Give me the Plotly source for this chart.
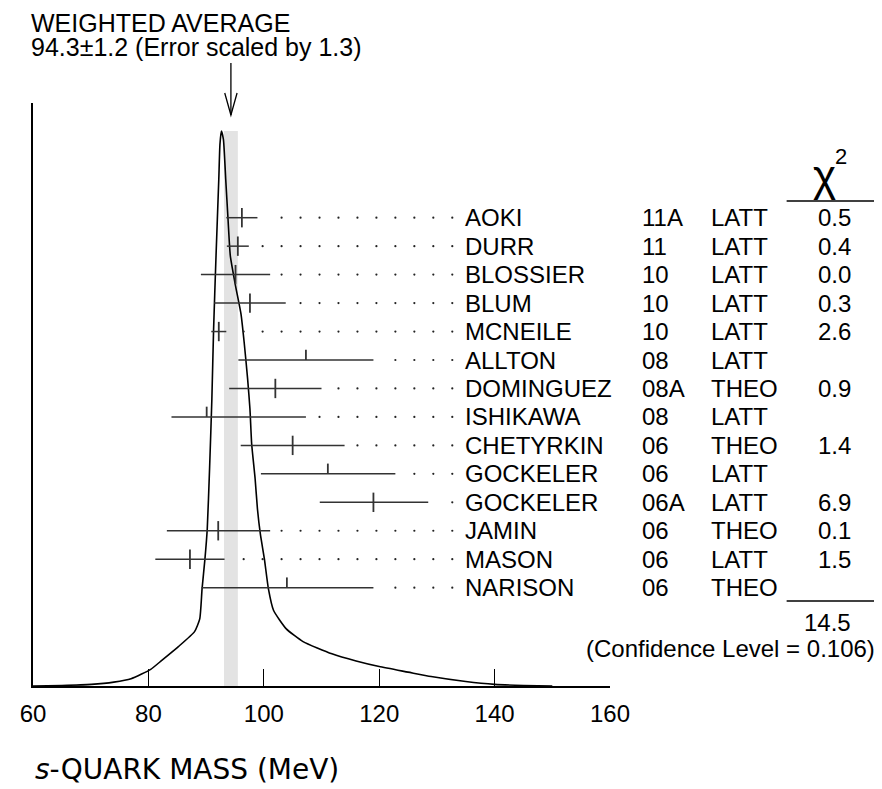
import plotly.graph_objects as go

# ---------------- data ----------------
names = ["AOKI", "DURR", "BLOSSIER", "BLUM", "MCNEILE", "ALLTON", "DOMINGUEZ",
         "ISHIKAWA", "CHETYRKIN", "GOCKELER", "GOCKELER", "JAMIN", "MASON", "NARISON"]
years = ["11A", "11", "10", "10", "10", "08", "08A", "08", "06", "06", "06A", "06", "06", "06"]
kinds = ["LATT", "LATT", "LATT", "LATT", "LATT", "LATT", "THEO", "LATT", "THEO", "LATT",
         "LATT", "THEO", "LATT", "THEO"]
values = [96.2, 95.5, 95.1, 97.6, 92.2, 107.3, 102.0, 90.1, 105.0, 111.1, 119.0, 92.1, 87.2, 104.0]
err_minus = [2.7, 1.9, 6.0, 6.2, 1.3, 11.7, 8.0, 6.1, 9.0, 11.6, 9.3, 8.9, 6.0, 14.8]
err_plus = [2.7, 1.9, 6.0, 6.2, 1.3, 11.7, 8.0, 17.2, 9.0, 11.7, 9.5, 9.0, 6.0, 15.0]
chi2 = ["0.5", "0.4", "0.0", "0.3", "2.6", "", "0.9", "", "1.4", "", "6.9", "0.1", "1.5", ""]
chi2_total = "14.5"
conf_level = "0.106"

avg_value = 94.3
avg_error = 1.2
avg_scale = 1.3

# ideogram curve (MeV, height relative to peak)
curve_mev = [60.0, 65.0, 70.1, 74.0, 77.0, 80.4, 82.3, 85.2, 88.0, 88.9, 89.3, 89.8, 90.2,
             90.6, 91.0, 91.3, 91.7, 92.2, 92.4, 92.65, 93.0, 93.4, 93.8, 94.2, 95.1, 96.05,
             96.6, 97.2, 97.6, 97.9, 98.5, 98.9, 99.4, 100.1, 100.8, 101.7, 103.9, 106.8,
             111.8, 116.0, 120.0, 125.0, 129.0, 135.0, 140.0, 145.0, 150.0]
curve_h = [0.0, 0.001, 0.003, 0.007, 0.013, 0.030, 0.046, 0.071, 0.098, 0.121, 0.175, 0.229,
           0.283, 0.391, 0.517, 0.643, 0.769, 0.913, 0.976, 1.0, 0.985, 0.913, 0.841, 0.775,
           0.721, 0.670, 0.619, 0.553, 0.499, 0.436, 0.373, 0.319, 0.274, 0.229, 0.175, 0.136,
           0.103, 0.080, 0.058, 0.045, 0.035, 0.025, 0.017, 0.008, 0.003, 0.001, 0.0]

x_ticks = [60, 80, 100, 120, 140, 160]

# ---------------- layout constants (reference-image pixels) ----------------
OFF = 8                      # page body margin
W, H = 882 - OFF, 789 - OFF
L, R_px, T, B_px = 22, 610, 103, 686
PEAK_PX = 131
PW, PH = R_px - L, B_px - T
FONT = "Liberation Sans, Arial, sans-serif"
FS = 24

ROW0_PX, ROW_STEP = 217.7, 28.46
y2_top = (T - ROW0_PX) / ROW_STEP
y2_bot = (B_px - ROW0_PX) / ROW_STEP

LEADER_START, LEADER_STEP, LEADER_END = 83.36, 3.287, 133.0


def pxx(px):
    return (px - L) / PW


def pxy(py):
    return (B_px - py) / PH


peak = max(curve_h)
y_top = peak * PH / (B_px - PEAK_PX)

fig = go.Figure()

# weighted-average band
fig.add_shape(type="rect", xref="x", yref="y",
              x0=avg_value - avg_error, x1=avg_value + avg_error, y0=0, y1=peak,
              fillcolor="#e3e3e3", line=dict(width=0), layer="below")

# ideogram
fig.add_trace(go.Scatter(x=curve_mev, y=curve_h, mode="lines",
                         line=dict(color="black", width=1.6, shape="spline", smoothing=0.5),
                         hoverinfo="skip", showlegend=False))

# error bars, centre ticks and dotted leaders
bx, by, tx, ty, dx, dy = [], [], [], [], [], []
for i, (v, lo, hi) in enumerate(zip(values, err_minus, err_plus)):
    bx += [v - lo, v + hi, None]
    by += [i, i, None]
    tx += [v, v, None]
    if chi2[i]:
        ty += [i - 0.34, i + 0.34, None]
    else:
        ty += [i - 0.36, i, None]
    k = 0
    while True:
        d = LEADER_START + k * LEADER_STEP
        if d > LEADER_END:
            break
        if d > v + hi + 1.0:
            dx.append(d)
            dy.append(i)
        k += 1

fig.add_trace(go.Scatter(x=bx, y=by, yaxis="y2", mode="lines",
                         line=dict(color="#333333", width=1.5), hoverinfo="skip",
                         showlegend=False))
fig.add_trace(go.Scatter(x=tx, y=ty, yaxis="y2", mode="lines",
                         line=dict(color="#333333", width=1.8), hoverinfo="skip",
                         showlegend=False))
fig.add_trace(go.Scatter(x=dx, y=dy, yaxis="y2", mode="markers",
                         marker=dict(color="#222222", size=2.2), hoverinfo="skip",
                         showlegend=False))

ann = []
for i in range(len(names)):
    ann.append(dict(x=pxx(460), y=i, xref="paper", yref="y2", text=names[i],
                    xanchor="left", yanchor="middle", showarrow=False))
    ann.append(dict(x=pxx(641), y=i, xref="paper", yref="y2", text=years[i],
                    xanchor="left", yanchor="middle", showarrow=False))
    ann.append(dict(x=pxx(711), y=i, xref="paper", yref="y2", text=kinds[i],
                    xanchor="left", yanchor="middle", showarrow=False))
    if chi2[i]:
        ann.append(dict(x=pxx(858), y=i, xref="paper", yref="y2", text=chi2[i],
                        xanchor="right", yanchor="middle", showarrow=False))

ann.append(dict(x=pxx(815), y=pxy(176), xref="paper", yref="paper", text="χ",
                xanchor="left", yanchor="middle", showarrow=False,
                font=dict(size=44, family=FONT)))
ann.append(dict(x=pxx(837), y=pxy(157), xref="paper", yref="paper", text="2",
                xanchor="left", yanchor="middle", showarrow=False,
                font=dict(size=22, family=FONT)))
ann.append(dict(x=pxx(858), y=pxy(622), xref="paper", yref="paper", text=chi2_total,
                xanchor="right", yanchor="middle", showarrow=False))
ann.append(dict(x=pxx(882), y=pxy(648), xref="paper", yref="paper",
                text=f"(Confidence Level = {conf_level})",
                xanchor="right", yanchor="middle", showarrow=False))
ann.append(dict(x=pxx(19), y=pxy(23), xref="paper", yref="paper", text="WEIGHTED AVERAGE",
                xanchor="left", yanchor="middle", showarrow=False, borderpad=0,
                font=dict(size=25, family=FONT)))
ann.append(dict(x=pxx(19), y=pxy(47), xref="paper", yref="paper",
                text=f"{avg_value}±{avg_error} (Error scaled by {avg_scale})",
                xanchor="left", yanchor="middle", showarrow=False, borderpad=0,
                font=dict(size=25, family=FONT)))
ann.append(dict(x=pxx(22), y=pxy(769), xref="paper", yref="paper",
                text="<i>s</i>-QUARK MASS (MeV)",
                xanchor="left", yanchor="middle", showarrow=False,
                font=dict(size=28, family="DejaVu Sans, sans-serif")))

# underlines of the chi2 column
for yy in (201, 601):
    fig.add_shape(type="line", xref="paper", yref="paper",
                  x0=pxx(790), x1=pxx(882), y0=pxy(yy), y1=pxy(yy),
                  line=dict(color="black", width=1.3))

# arrow to the weighted average
fig.add_shape(type="line", xref="x", yref="paper", x0=avg_value, x1=avg_value,
              y0=pxy(63), y1=pxy(115), line=dict(color="black", width=1.3))
fig.add_shape(type="path", xref="x", yref="paper",
              path=f"M {avg_value - 1.07},{pxy(93)} L {avg_value},{pxy(115)} L {avg_value + 1.07},{pxy(93)}",
              line=dict(color="black", width=1.3))

fig.update_layout(
    width=W, height=H,
    margin=dict(l=L - OFF, r=W - (R_px - OFF), t=T - OFF, b=H - (B_px - OFF), pad=0),
    paper_bgcolor="white", plot_bgcolor="white",
    font=dict(family=FONT, size=FS, color="black"),
    annotations=ann,
    showlegend=False,
    xaxis=dict(range=[60, 160], showgrid=False, zeroline=False, showline=True,
               linecolor="black", linewidth=1.5, ticks="inside", ticklen=17,
               tickwidth=1.3, tickcolor="black", tickvals=x_ticks,
               ticktext=[str(t) for t in x_ticks], tickfont=dict(size=FS, family=FONT),
               ticklabelstandoff=5),
    yaxis=dict(range=[0, y_top], showgrid=False, zeroline=False, showline=True,
               linecolor="black", linewidth=1.5, showticklabels=False, ticks=""),
    yaxis2=dict(range=[y2_bot, y2_top], overlaying="y", showgrid=False, zeroline=False,
                showline=False, showticklabels=False, ticks=""),
)

fig.write_html("out.html")
